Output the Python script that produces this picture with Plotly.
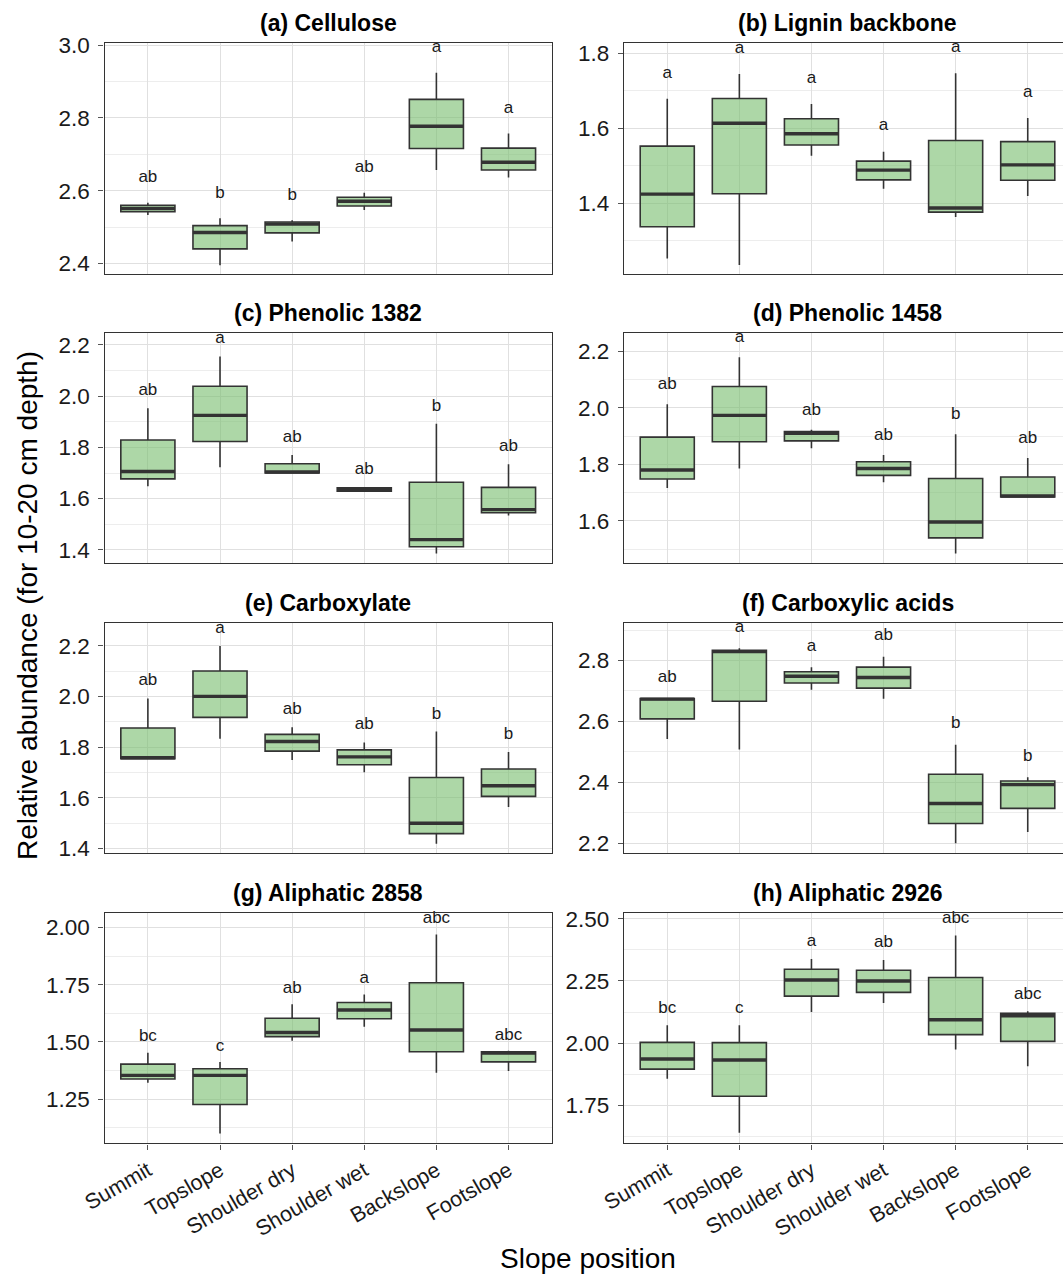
import plotly.graph_objects as go

positions = ["Summit", "Topslope", "Shoulder dry", "Shoulder wet", "Backslope", "Footslope"]

# (a) Cellulose
cel_lower = [2.533, 2.395, 2.460, 2.547, 2.657, 2.636]
cel_q1 = [2.542, 2.440, 2.484, 2.558, 2.716, 2.657]
cel_med = [2.551, 2.485, 2.508, 2.571, 2.777, 2.678]
cel_q3 = [2.560, 2.504, 2.514, 2.582, 2.851, 2.717]
cel_upper = [2.567, 2.524, 2.519, 2.594, 2.924, 2.757]
cel_letters = ["ab", "b", "b", "ab", "a", "a"]

# (b) Lignin backbone
lig_lower = [1.253, 1.236, 1.527, 1.439, 1.364, 1.420]
lig_q1 = [1.338, 1.426, 1.556, 1.463, 1.377, 1.462]
lig_med = [1.425, 1.614, 1.586, 1.489, 1.388, 1.503]
lig_q3 = [1.553, 1.680, 1.626, 1.513, 1.568, 1.565]
lig_upper = [1.679, 1.745, 1.665, 1.538, 1.747, 1.628]
lig_letters = ["a", "a", "a", "a", "a", "a"]

# (c) Phenolic 1382
p1382_lower = [1.648, 1.723, 1.697, 1.627, 1.386, 1.534]
p1382_q1 = [1.677, 1.823, 1.700, 1.629, 1.412, 1.545]
p1382_med = [1.706, 1.925, 1.704, 1.635, 1.440, 1.557]
p1382_q3 = [1.829, 2.039, 1.736, 1.642, 1.664, 1.644]
p1382_upper = [1.953, 2.155, 1.770, 1.643, 1.892, 1.734]
p1382_letters = ["ab", "a", "ab", "ab", "b", "ab"]

# (d) Phenolic 1458
p1458_lower = [1.716, 1.785, 1.857, 1.737, 1.485, 1.685]
p1458_q1 = [1.748, 1.880, 1.883, 1.761, 1.540, 1.685]
p1458_med = [1.780, 1.973, 1.910, 1.785, 1.596, 1.688]
p1458_q3 = [1.896, 2.075, 1.916, 1.809, 1.750, 1.755]
p1458_upper = [2.012, 2.178, 1.922, 1.833, 1.906, 1.822]
p1458_letters = ["ab", "a", "ab", "ab", "b", "ab"]

# (e) Carboxylate
cxl_lower = [1.751, 1.833, 1.749, 1.700, 1.418, 1.563]
cxl_q1 = [1.754, 1.917, 1.784, 1.730, 1.458, 1.605]
cxl_med = [1.758, 2.000, 1.822, 1.761, 1.499, 1.647]
cxl_q3 = [1.875, 2.100, 1.850, 1.789, 1.680, 1.713]
cxl_upper = [1.992, 2.199, 1.878, 1.818, 1.861, 1.780]
cxl_letters = ["ab", "a", "ab", "ab", "b", "b"]

# (f) Carboxylic acids
cac_lower = [2.542, 2.507, 2.704, 2.674, 2.199, 2.236]
cac_q1 = [2.608, 2.666, 2.726, 2.709, 2.264, 2.314]
cac_med = [2.673, 2.829, 2.748, 2.744, 2.330, 2.392]
cac_q3 = [2.675, 2.833, 2.763, 2.778, 2.426, 2.404]
cac_upper = [2.675, 2.840, 2.778, 2.812, 2.523, 2.416]
cac_letters = ["ab", "a", "a", "ab", "b", "b"]

# (g) Aliphatic 2858
a2858_lower = [1.322, 1.100, 1.505, 1.566, 1.365, 1.373]
a2858_q1 = [1.338, 1.227, 1.523, 1.601, 1.457, 1.413]
a2858_med = [1.354, 1.354, 1.541, 1.639, 1.552, 1.451]
a2858_q3 = [1.403, 1.383, 1.603, 1.672, 1.758, 1.457]
a2858_upper = [1.453, 1.412, 1.664, 1.707, 1.969, 1.461]
a2858_letters = ["bc", "c", "ab", "a", "abc", "abc"]

# (h) Aliphatic 2926
a2926_lower = [1.856, 1.639, 2.125, 2.161, 1.974, 1.907]
a2926_q1 = [1.895, 1.786, 2.189, 2.204, 2.034, 2.007]
a2926_med = [1.936, 1.932, 2.254, 2.250, 2.094, 2.110]
a2926_q3 = [2.003, 2.002, 2.297, 2.293, 2.264, 2.120]
a2926_upper = [2.072, 2.072, 2.339, 2.335, 2.433, 2.128]
a2926_letters = ["bc", "c", "a", "ab", "abc", "abc"]

panels = [
    ("(a) Cellulose", cel_lower, cel_q1, cel_med, cel_q3, cel_upper, cel_letters),
    ("(b) Lignin backbone", lig_lower, lig_q1, lig_med, lig_q3, lig_upper, lig_letters),
    ("(c) Phenolic 1382", p1382_lower, p1382_q1, p1382_med, p1382_q3, p1382_upper, p1382_letters),
    ("(d) Phenolic 1458", p1458_lower, p1458_q1, p1458_med, p1458_q3, p1458_upper, p1458_letters),
    ("(e) Carboxylate", cxl_lower, cxl_q1, cxl_med, cxl_q3, cxl_upper, cxl_letters),
    ("(f) Carboxylic acids", cac_lower, cac_q1, cac_med, cac_q3, cac_upper, cac_letters),
    ("(g) Aliphatic 2858", a2858_lower, a2858_q1, a2858_med, a2858_q3, a2858_upper, a2858_letters),
    ("(h) Aliphatic 2926", a2926_lower, a2926_q1, a2926_med, a2926_q3, a2926_upper, a2926_letters),
]

# layout configuration (pixels in a 1063 x 1274 page)
W, H = 1063, 1274
y_ranges = [[2.371, 3.005], [1.212, 1.827], [1.347, 2.248], [1.450, 2.265],
            [1.380, 2.291], [2.166, 2.924], [1.057, 2.064], [1.596, 2.525]]
y_dticks = [0.2, 0.2, 0.2, 0.2, 0.2, 0.2, 0.25, 0.25]
y_formats = [".1f"] * 6 + [".2f"] * 2
row_tops = [43.3, 332.7, 622.7, 912.7]
row_h = 230.7
col_left = [(104.6, 551.8), (624.0, 1063.0)]
col_xrange = [[-0.6, 5.6], [-0.6, 5.489]]
col_title_x = [328.2, 847.5]
label_offset = 0.068

FONT = "Liberation Sans, Arial, sans-serif"
fill = "rgba(118,188,108,0.6)"
edge = "#333333"
grid_major = "#e0e0e0"
grid_minor = "#ededed"

fig = go.Figure()
layout = dict(width=W, height=H, margin=dict(l=0, r=0, t=0, b=0, pad=0),
              autosize=False, template="none",
              plot_bgcolor="white", paper_bgcolor="white",
              boxmode="overlay", showlegend=False,
              font=dict(family=FONT, color="#1a1a1a"))
annotations = []

for i, (title, lo, q1, med, q3, up, letters) in enumerate(panels):
    row, col = divmod(i, 2)
    n = i + 1
    xa = "x" if n == 1 else f"x{n}"
    ya = "y" if n == 1 else f"y{n}"
    fig.add_trace(go.Box(
        x=positions, q1=q1, median=med, q3=q3, lowerfence=lo, upperfence=up,
        fillcolor=fill, line=dict(color=edge, width=1.6), whiskerwidth=0,
        width=0.75, boxpoints=False, hoverinfo="skip", xaxis=xa, yaxis=ya))
    fig.add_trace(go.Box(
        x=positions, q1=med, median=med, q3=med, lowerfence=med, upperfence=med,
        fillcolor="rgba(0,0,0,0)", line=dict(color=edge, width=3.4), whiskerwidth=0,
        width=0.75, boxpoints=False, hoverinfo="skip", xaxis=xa, yaxis=ya))
    fig.add_trace(go.Scatter(
        x=positions, y=[u + label_offset for u in up], text=letters, mode="text",
        textposition="middle center", textfont=dict(size=17, color="#1a1a1a", family=FONT),
        hoverinfo="skip", cliponaxis=False, xaxis=xa, yaxis=ya))

    x0, x1 = col_left[col]
    top = row_tops[row]
    bottom = top + row_h
    bottom_row = row == 3
    layout["xaxis" if n == 1 else f"xaxis{n}"] = dict(
        domain=[x0 / W, x1 / W], anchor=ya, type="category", automargin=False,
        categoryorder="array", categoryarray=positions,
        range=col_xrange[col], showgrid=True, gridcolor=grid_major, gridwidth=1,
        showline=True, mirror=True, linecolor=edge, linewidth=1.4, zeroline=False,
        ticks="outside" if bottom_row else "", ticklen=5, tickcolor="#555555",
        showticklabels=bottom_row, tickangle=-30,
        tickfont=dict(size=21.5, color="#1a1a1a", family=FONT), fixedrange=True)
    layout["yaxis" if n == 1 else f"yaxis{n}"] = dict(
        domain=[1 - bottom / H, 1 - top / H], anchor=xa, range=y_ranges[i],
        automargin=False, tick0=0, dtick=y_dticks[i], tickformat=y_formats[i],
        showgrid=True, gridcolor=grid_major, gridwidth=1,
        minor=dict(dtick=y_dticks[i] / 2, tick0=0, showgrid=True,
                   gridcolor=grid_minor, gridwidth=1, ticks=""),
        showline=True, mirror=True, linecolor=edge, linewidth=1.4, zeroline=False,
        ticks="outside", ticklen=5, tickcolor="#555555", ticklabelstandoff=4,
        tickfont=dict(size=22.5, color="#1a1a1a", family=FONT), fixedrange=True)
    annotations.append(dict(
        text=f"<b>{title}</b>", x=col_title_x[col] / W, y=1 - (top - 20) / H,
        xref="paper", yref="paper", xanchor="center", yanchor="middle",
        showarrow=False, font=dict(size=23, color="black", family=FONT)))

annotations.append(dict(
    text="Relative abundance (for 10-20 cm depth)", x=27 / W, y=1 - 606 / H,
    xref="paper", yref="paper", xanchor="center", yanchor="middle", textangle=-90,
    showarrow=False, font=dict(size=28, color="black", family=FONT)))
annotations.append(dict(
    text="Slope position", x=588 / W, y=1 - 1258 / H,
    xref="paper", yref="paper", xanchor="center", yanchor="middle",
    showarrow=False, font=dict(size=28, color="black", family=FONT)))
layout["annotations"] = annotations

fig.update_layout(**layout)
fig.write_html("out.html", config={"displayModeBar": False},
               post_script="document.body.style.margin='0';document.body.style.overflow='hidden';")
